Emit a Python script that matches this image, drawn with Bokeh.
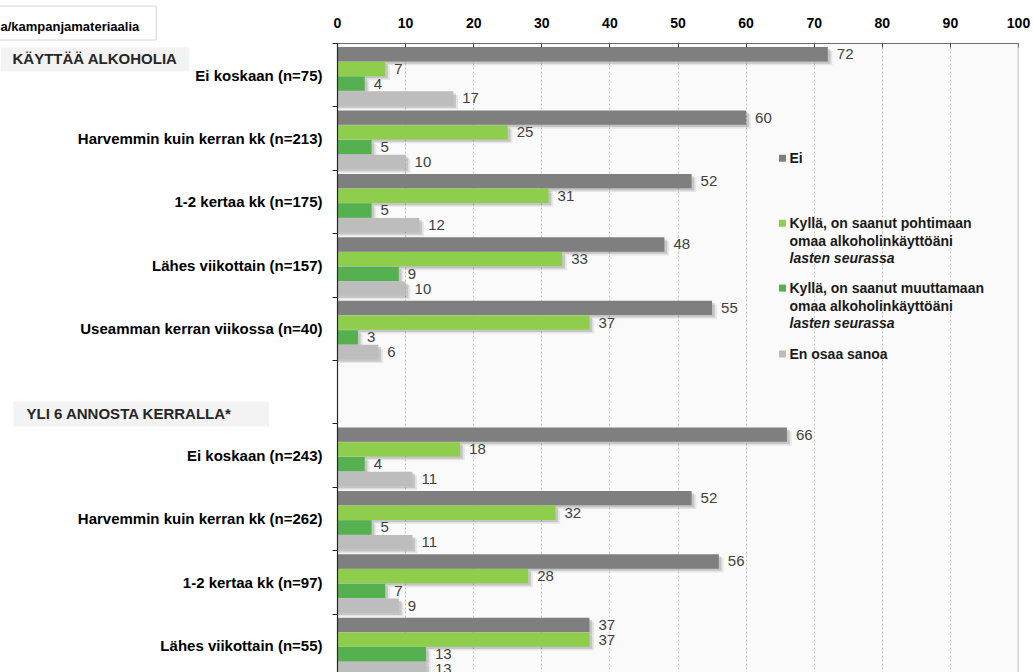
from bokeh.plotting import figure
from bokeh.layouts import row
from bokeh.models import Range1d, FixedTicker, Span, Label
from bokeh.embed import file_html
from bokeh.resources import INLINE
from bokeh.core.properties import value

# Survey groups, top to bottom; the empty entry separates the two sections
categories = [
    "Ei koskaan (n=75)",
    "Harvemmin kuin kerran kk (n=213)",
    "1-2 kertaa kk (n=175)",
    "Lähes viikottain (n=157)",
    "Useamman kerran viikossa (n=40)",
    "",
    "Ei koskaan (n=243)",
    "Harvemmin kuin kerran kk (n=262)",
    "1-2 kertaa kk (n=97)",
    "Lähes viikottain (n=55)",
]
ei = [72, 60, 52, 48, 55, None, 66, 52, 56, 37]
pohtimaan = [7, 25, 31, 33, 37, None, 18, 32, 28, 37]
muuttamaan = [4, 5, 5, 9, 3, None, 4, 5, 7, 13]
en_osaa = [17, 10, 12, 10, 6, None, 11, 11, 9, 13]

x_ticks = [0, 10, 20, 30, 40, 50, 60, 70, 80, 90, 100]
section_titles = ["KÄYTTÄÄ ALKOHOLIA", "YLI 6 ANNOSTA KERRALLA*"]
corner_note = "a/kampanjamateriaalia"

series = [ei, pohtimaan, muuttamaan, en_osaa]
colors = ["#7f7f7f", "#8fce4c", "#55b04f", "#bdbdbd"]
legend_lines = [
    [("Ei", "bold")],
    [("Kyllä, on saanut pohtimaan", "bold"), ("omaa alkoholinkäyttöäni", "bold"), ("lasten seurassa", "bold italic")],
    [("Kyllä, on saanut muuttamaan", "bold"), ("omaa alkoholinkäyttöäni", "bold"), ("lasten seurassa", "bold italic")],
    [("En osaa sanoa", "bold")],
]

# Page geometry (pixels)
W, H = 1033, 672
LEFT_W = 329                      # width of the label column on the left
FRAME_LEFT, FRAME_TOP, FRAME_RIGHT_PAD = 337, 42, 15
GROUP_PX = 63.5
PX_PER_UNIT = (W - FRAME_LEFT - FRAME_RIGHT_PAD) / 100.0
FONT = "Liberation Sans"
Y_BOTTOM = -0.5 + (H - FRAME_TOP) / GROUP_PX


def dx(px):
    return (px - FRAME_LEFT) / PX_PER_UNIT


def dy(py):
    return -0.5 + (py - FRAME_TOP) / GROUP_PX


# ---------- bar chart ----------
p = figure(
    width=W - LEFT_W, height=H,
    x_range=Range1d(0, 100),
    y_range=Range1d(Y_BOTTOM, -0.5),
    x_axis_location="above",
    toolbar_location=None,
    output_backend="svg",
    min_border_left=FRAME_LEFT - LEFT_W, min_border_top=FRAME_TOP,
    min_border_right=FRAME_RIGHT_PAD, min_border_bottom=0,
)
p.background_fill_color = "#fafafa"
p.border_fill_color = "white"
p.outline_line_color = None

xa = p.xaxis[0]
xa.ticker = FixedTicker(ticks=x_ticks, minor_ticks=[])
xa.axis_line_color = "#6b6b6b"
xa.major_tick_line_color = "#404040"
xa.major_tick_in = 4
xa.major_tick_out = 0
xa.minor_tick_line_color = None
xa.major_label_text_font = FONT
xa.major_label_text_font_style = "bold"
xa.major_label_text_font_size = "14px"
xa.major_label_text_color = "black"
xa.major_label_standoff = 16

p.xgrid.ticker = FixedTicker(ticks=x_ticks[1:-1])
p.xgrid.grid_line_color = "#c4c4c4"
p.xgrid.grid_line_dash = "2 2"
p.ygrid.visible = False

# y axis: tick marks at group borders only
ya = p.yaxis[0]
ya.ticker = FixedTicker(ticks=[], minor_ticks=[i - 0.5 for i in range(len(categories) + 1)])
ya.axis_line_color = "#262626"
ya.axis_line_width = 1.2
ya.major_tick_line_color = None
ya.major_tick_out = 0
ya.major_tick_in = 0
ya.minor_tick_line_color = "#262626"
ya.minor_tick_out = 5
ya.minor_tick_in = 0
ya.major_label_standoff = 0

p.add_layout(Span(location=100, dimension="height", line_color="#a8a8a8", line_width=1.5))

BAR_H = 0.226
OFFSETS = [-0.33 + 0.232 * k for k in range(4)]

# soft shadows under bars
for k, vals in enumerate(series):
    idx = [i for i, v in enumerate(vals) if v is not None]
    ys = [i + OFFSETS[k] for i in idx]
    xs = [vals[i] for i in idx]
    for sx, sy, a in [(0.7, 0.06, 0.08), (0.4, 0.035, 0.14)]:
        p.hbar(y=[y + sy for y in ys], left=0, right=[x + sx for x in xs], height=BAR_H,
               fill_color="black", fill_alpha=a, line_color=None)

for k, vals in enumerate(series):
    idx = [i for i, v in enumerate(vals) if v is not None]
    ys = [i + OFFSETS[k] for i in idx]
    xs = [vals[i] for i in idx]
    p.hbar(y=ys, left=0, right=xs, height=BAR_H, fill_color=colors[k], line_color=None)
    p.text(x=xs, y=ys, text=[str(v) for v in xs], x_offset=9,
           text_baseline="middle", text_align="left",
           text_font=value(FONT), text_font_size="15px", text_color="#3f3f3f")

# legend
legend_rows = [157, 222, 287, 353]
LINE_PX = 17.5
for k, lines in enumerate(legend_lines):
    top = legend_rows[k]
    p.scatter(x=[dx(782)], y=[dy(top)], marker="square", size=7,
              fill_color=colors[k], line_color=None)
    for j, (txt, style) in enumerate(lines):
        p.add_layout(Label(x=dx(789), y=dy(top + j * LINE_PX), text=txt,
                           text_baseline="middle", text_align="left",
                           text_font=FONT, text_font_style=style,
                           text_font_size="14px", text_color="#1a1a1a"))

# ---------- label column (shares the vertical scale of the bars) ----------
q = figure(
    width=LEFT_W, height=H,
    x_range=Range1d(0, LEFT_W),
    y_range=p.y_range,
    toolbar_location=None,
    output_backend="svg",
    min_border_left=0, min_border_right=0,
    min_border_top=FRAME_TOP, min_border_bottom=0,
)
q.axis.visible = False
q.grid.visible = False
q.outline_line_color = None
q.background_fill_color = "white"
q.border_fill_color = "white"

label_idx = [i for i, c in enumerate(categories) if c]
q.text(x=[LEFT_W - 7] * len(label_idx), y=label_idx, text=[categories[i] for i in label_idx],
       text_align="right", text_baseline="middle",
       text_font=value(FONT), text_font_style="bold", text_font_size="15px", text_color="black")

heading_boxes = [((0, 58), (12, 12, 3, 4)), ((13, 413), (13, 37, 4, 4))]
for txt, ((px, py), pad) in zip(section_titles, heading_boxes):
    q.add_layout(Label(x=px, y=dy(py), text=txt,
                       text_baseline="middle", text_align="left",
                       text_font=FONT, text_font_style="bold",
                       text_font_size="15px", text_color="#262626",
                       background_fill_color="#f3f3f3", padding=pad))

# note box in the top-left corner
q.title.text = corner_note
q.title.align = "left"
q.title.offset = -8
q.title.standoff = 7
q.title.text_font = FONT
q.title.text_font_style = "bold"
q.title.text_font_size = "13px"
q.title.text_color = "black"
q.title.background_fill_color = "white"
q.title.border_line_color = "#d4d4d4"
q.title.padding = (8, 17, 13, 6)

layout = row(q, p, spacing=0)
open("out.html", "w").write(file_html(layout, INLINE))
